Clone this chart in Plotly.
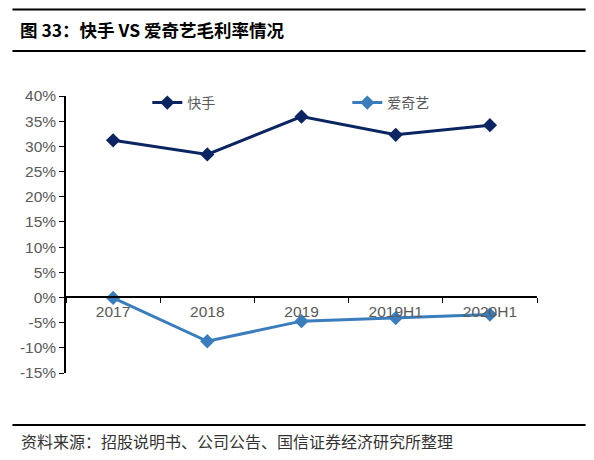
import plotly.graph_objects as go

# gross margin (%)
periods = ['2017', '2018', '2019', '2019H1', '2020H1']
kuaishou = [31.2, 28.4, 35.9, 32.3, 34.2]
iqiyi = [-0.1, -8.7, -4.7, -4.1, -3.4]
yTicks = [40, 35, 30, 25, 20, 15, 10, 5, 0, -5, -10, -15]

OFF = 8  # page body margin
W, H = 594 - 2 * OFF, 460 - 2 * OFF
L, R, T, B = 62 - OFF, 537 - OFF, 96 - OFF, 373 - OFF


def px(x):
    return (x - OFF - L) / (R - L)


def py(y):
    return (B - (y - OFF)) / (B - T)


fig = go.Figure()
fig.add_trace(go.Scatter(x=periods, y=kuaishou, name='快手', mode='lines+markers',
                         line=dict(color='#0b2563', width=3),
                         marker=dict(symbol='diamond', size=11, color='#0b2563')))
fig.add_trace(go.Scatter(x=periods, y=iqiyi, name='爱奇艺', mode='lines+markers',
                         line=dict(color='#3a7dbd', width=3),
                         marker=dict(symbol='diamond', size=11, color='#3a7dbd')))

layout = dict()
layout['width'] = W
layout['height'] = H
layout['margin'] = dict(l=L, r=W - R, t=T, b=H - B)
layout['paper_bgcolor'] = 'white'
layout['plot_bgcolor'] = 'white'
layout['font'] = dict(family='Liberation Sans, Arial', color='#595959', size=15)
layout['xaxis'] = dict(type='category', anchor='free', position=15 / 55,
                       showline=True, linecolor='black', linewidth=1.5,
                       ticks='outside', ticklen=5, tickcolor='black', tickson='boundaries',
                       showgrid=False, tickfont=dict(size=15.5, color='#595959'),
                       range=[-0.5, 4.5])
layout['yaxis'] = dict(range=[-15, 40], tickvals=yTicks,
                       ticktext=[str(v) + '%' for v in yTicks],
                       showline=True, linecolor='black', linewidth=1.5,
                       ticks='outside', ticklen=5, tickcolor='black',
                       showgrid=False, zeroline=False,
                       tickfont=dict(size=15.5, color='#595959'))
layout['legend'] = dict(orientation='h', x=px(144), y=py(103), xanchor='left', yanchor='middle',
                        entrywidth=155, entrywidthmode='pixels',
                        font=dict(family='Noto Sans CJK SC', size=14, color='#595959'),
                        bgcolor='rgba(0,0,0,0)')
fig.update_layout(layout)

# horizontal rules (top one kept just inside the canvas)
for yy in [9.5, 51, 425]:
    fig.add_shape(type='line', xref='paper', yref='paper',
                  x0=px(8), x1=px(586), y0=py(yy), y1=py(yy),
                  line=dict(color='black', width=2))

fig.add_annotation(text='<b>图 33：快手 VS 爱奇艺毛利率情况</b>', xref='paper', yref='paper',
                   x=px(14), y=py(30), xanchor='left', yanchor='middle', showarrow=False,
                   font=dict(family='Noto Sans CJK SC', size=17.5, color='black'))
fig.add_annotation(text='资料来源：招股说明书、公司公告、国信证券经济研究所整理', xref='paper', yref='paper',
                   x=px(15), y=py(441), xanchor='left', yanchor='middle', showarrow=False,
                   font=dict(family='Noto Sans CJK SC', size=16, color='#333333'))

fig.write_html('out.html')
